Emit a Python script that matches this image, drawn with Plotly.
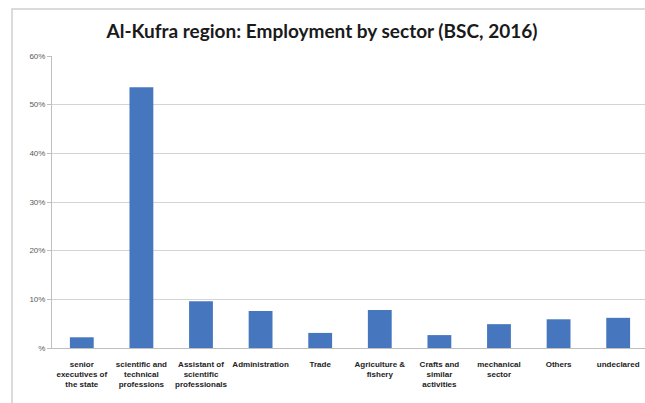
import plotly.graph_objects as go

categories = [
    "senior<br>executives of<br>the state",
    "scientific and<br>technical<br>professions",
    "Assistant of<br>scientific<br>professionals",
    "Administration",
    "Trade",
    "Agriculture &<br>fishery",
    "Crafts and<br>similar<br>activities",
    "mechanical<br>sector",
    "Others",
    "undeclared",
]
values = [0.022, 0.536, 0.096, 0.076, 0.031, 0.078, 0.0265, 0.049, 0.059, 0.062]
tick_vals = [0, 0.1, 0.2, 0.3, 0.4, 0.5, 0.6]
tick_text = ["%", "10%", "20%", "30%", "40%", "50%", "60%"]

W, H = 645, 403
L, R, T, B = 52, 0, 56, 55
pw = W - L - R
ph = H - T - B

def px(x):
    return (x - L) / pw

def py(y):
    return (H - B - y) / ph

fig = go.Figure(go.Bar(
    x=list(range(len(categories))),
    y=values,
    width=0.4,
    marker=dict(color="#4677BE", line=dict(width=0)),
))

fig.update_layout(
    width=W, height=H,
    margin=dict(l=L, r=R, t=T, b=B),
    paper_bgcolor="white", plot_bgcolor="white",
    showlegend=False,
    title=dict(
        text="<b>Al-Kufra region: Employment by sector (BSC, 2016)</b>",
        x=322 / W, xref="container", xanchor="center",
        y=1 - 31 / H, yref="container", yanchor="middle",
        font=dict(family="Lato", size=19, color="#1a1a1a"),
    ),
    xaxis=dict(
        range=[-0.5, 9.45],
        tickvals=list(range(len(categories))),
        ticktext=[f"<b>{c}</b>" for c in categories],
        tickfont=dict(family="Liberation Sans", size=8, color="#222222"),
        showgrid=False, showline=True, linecolor="#bfbfbf", linewidth=1,
        ticks="", ticklabelstandoff=8, zeroline=False, fixedrange=True,
    ),
    yaxis=dict(
        range=[0, 0.6],
        tickvals=tick_vals, ticktext=tick_text,
        tickfont=dict(family="Liberation Sans", size=8, color="#595959"),
        showgrid=True, gridcolor="#d4d4d4", gridwidth=1,
        showline=True, linecolor="#bfbfbf", linewidth=1,
        ticks="outside", ticklen=4, tickcolor="#bfbfbf",
        zeroline=False, fixedrange=True,
    ),
    shapes=[
        dict(type="rect", xref="paper", yref="paper",
             x0=px(12), x1=px(700), y0=py(430), y1=py(9),
             line=dict(color="#d0d0d0", width=1.5), fillcolor="rgba(0,0,0,0)",
             layer="below"),
    ],
)

fig.write_html("out.html")
